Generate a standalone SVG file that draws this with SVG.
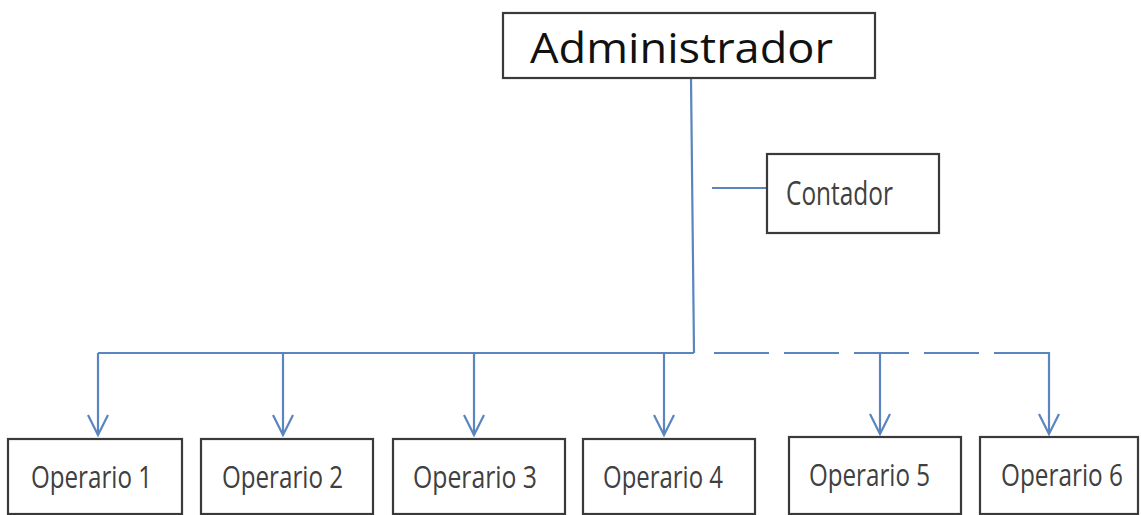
<svg xmlns="http://www.w3.org/2000/svg" width="1141" height="515" viewBox="0 0 1141 515">
<defs>
<style>
.box{fill:#fff;stroke:#3a3a3a;stroke-width:2.2}
.con{fill:none;stroke:#5A85BE;stroke-width:2.2}
.lbl{font-family:"Open Sans","Liberation Sans",sans-serif;fill:#404040}
.adm{font-family:"Open Sans","DejaVu Sans",sans-serif;fill:#111;font-size:42px}
</style>
<marker id="arr" viewBox="0 0 24 24" refX="22" refY="12" markerWidth="24" markerHeight="24" markerUnits="userSpaceOnUse" orient="auto">
<path d="M2,2 L22,12 L2,22" fill="none" stroke="#5A85BE" stroke-width="2.2"/>
</marker>
</defs>
<rect width="1141" height="515" fill="#fff"/>
<g id="connectors">
<path class="con" d="M691,78 L694,353"/>
<path class="con" d="M712,188 L767,188"/>
<path class="con" d="M694,353 L98,353"/>
<path class="con" d="M1049,353 L711,353" stroke-dasharray="55,15"/>
<path class="con" d="M98,353 L98,435" marker-end="url(#arr)"/>
<path class="con" d="M283,353 L283,435" marker-end="url(#arr)"/>
<path class="con" d="M474,353 L474,435" marker-end="url(#arr)"/>
<path class="con" d="M664,353 L664,435" marker-end="url(#arr)"/>
<path class="con" d="M880,353 L880,434" marker-end="url(#arr)"/>
<path class="con" d="M1049,352 L1049,434" marker-end="url(#arr)"/>
</g>
<g id="administrador">
<rect class="box" x="503" y="13" width="372" height="65"/>
<text class="adm" x="530" y="63" textLength="303" lengthAdjust="spacingAndGlyphs">Administrador</text>
</g>
<g id="contador">
<rect class="box" x="767" y="154" width="172" height="79"/>
<text class="lbl" x="786" y="205" font-size="33" textLength="107" lengthAdjust="spacingAndGlyphs">Contador</text>
</g>
<g id="operario1">
<rect class="box" x="8" y="439" width="174" height="75"/>
<text class="lbl" x="31" y="488" font-size="31" textLength="121" lengthAdjust="spacingAndGlyphs">Operario 1</text>
</g>
<g id="operario2">
<rect class="box" x="201" y="439" width="172" height="75"/>
<text class="lbl" x="222" y="488" font-size="31" textLength="121" lengthAdjust="spacingAndGlyphs">Operario 2</text>
</g>
<g id="operario3">
<rect class="box" x="393" y="439" width="172" height="75"/>
<text class="lbl" x="413" y="488" font-size="31" textLength="124" lengthAdjust="spacingAndGlyphs">Operario 3</text>
</g>
<g id="operario4">
<rect class="box" x="583" y="439" width="172" height="75"/>
<text class="lbl" x="603" y="488" font-size="31" textLength="120" lengthAdjust="spacingAndGlyphs">Operario 4</text>
</g>
<g id="operario5">
<rect class="box" x="789" y="437" width="172" height="77"/>
<text class="lbl" x="809" y="486" font-size="31" textLength="121" lengthAdjust="spacingAndGlyphs">Operario 5</text>
</g>
<g id="operario6">
<rect class="box" x="980" y="437" width="158" height="77"/>
<text class="lbl" x="1001" y="486" font-size="31" textLength="122" lengthAdjust="spacingAndGlyphs">Operario 6</text>
</g>
</svg>
